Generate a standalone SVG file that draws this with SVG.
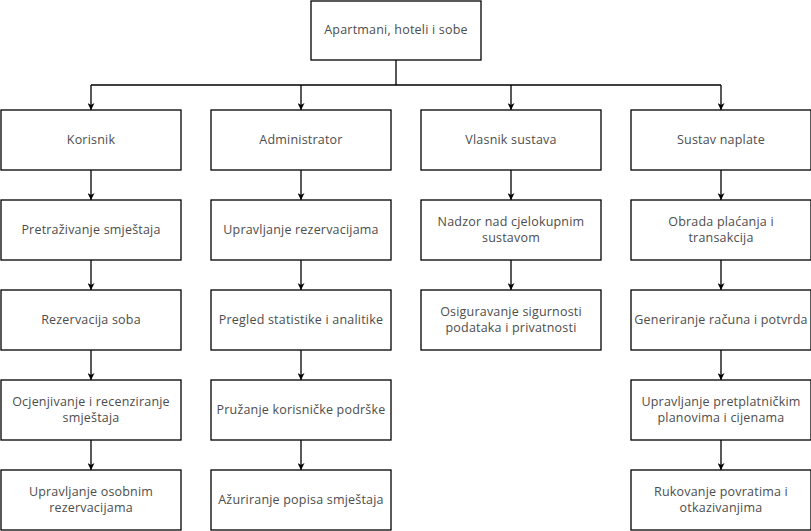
<svg xmlns="http://www.w3.org/2000/svg" width="811" height="531" viewBox="0 0 811 531">
<defs>
<marker id="ah" viewBox="0 0 10 10" refX="10" refY="5" markerWidth="7" markerHeight="7" markerUnits="userSpaceOnUse" orient="auto">
<path d="M0,0 L10,5 L0,10 L3,5 Z" fill="#000"/>
</marker>
<style>
rect{fill:#fff;stroke:#000;stroke-width:1.3}
text{font-family:"Open Sans","Noto Sans",sans-serif;font-size:12.5px;letter-spacing:0.2px;fill:#4d4d4d;text-anchor:middle}
.c{fill:none;stroke:#000;stroke-width:1.3}
.a{marker-end:url(#ah)}
</style>
</defs>
<rect x="0" y="0" width="811" height="531" style="fill:#fff;stroke:none"/>
<g id="connectors">
<path class="c" d="M396,60 V85 M91,85 H721"/>
<path class="c a" d="M91,85 V110"/>
<path class="c a" d="M301,85 V110"/>
<path class="c a" d="M511,85 V110"/>
<path class="c a" d="M721,85 V110"/>
<path class="c a" d="M91,170 V200"/>
<path class="c a" d="M91,260 V290"/>
<path class="c a" d="M91,350 V380"/>
<path class="c a" d="M91,440 V470"/>
<path class="c a" d="M301,170 V200"/>
<path class="c a" d="M301,260 V290"/>
<path class="c a" d="M301,350 V380"/>
<path class="c a" d="M301,440 V470"/>
<path class="c a" d="M511,170 V200"/>
<path class="c a" d="M511,260 V290"/>
<path class="c a" d="M721,170 V200"/>
<path class="c a" d="M721,260 V290"/>
<path class="c a" d="M721,350 V380"/>
<path class="c a" d="M721,440 V470"/>
</g>
<g id="root"><rect x="311" y="1" width="170" height="59"/><text x="396" y="34">Apartmani, hoteli i sobe</text></g>
<g id="korisnik"><rect x="1" y="110" width="180" height="60"/><text x="91" y="144">Korisnik</text></g>
<g id="administrator"><rect x="211" y="110" width="180" height="60"/><text x="301" y="144">Administrator</text></g>
<g id="vlasnik"><rect x="421" y="110" width="180" height="60"/><text x="511" y="144">Vlasnik sustava</text></g>
<g id="naplata"><rect x="631" y="110" width="180" height="60"/><text x="721" y="144">Sustav naplate</text></g>
<g id="k1"><rect x="1" y="200" width="180" height="60"/><text x="91" y="234">Pretraživanje smještaja</text></g>
<g id="k2"><rect x="1" y="290" width="180" height="60"/><text x="91" y="324">Rezervacija soba</text></g>
<g id="k3"><rect x="1" y="380" width="180" height="60"/><text x="91" y="406">Ocjenjivanje i recenziranje</text><text x="91" y="422">smještaja</text></g>
<g id="k4"><rect x="1" y="470" width="180" height="60"/><text x="91" y="496">Upravljanje osobnim</text><text x="91" y="512">rezervacijama</text></g>
<g id="a1"><rect x="211" y="200" width="180" height="60"/><text x="301" y="234">Upravljanje rezervacijama</text></g>
<g id="a2"><rect x="211" y="290" width="180" height="60"/><text x="301" y="324">Pregled statistike i analitike</text></g>
<g id="a3"><rect x="211" y="380" width="180" height="60"/><text x="301" y="414">Pružanje korisničke podrške</text></g>
<g id="a4"><rect x="211" y="470" width="180" height="60"/><text x="301" y="504">Ažuriranje popisa smještaja</text></g>
<g id="v1"><rect x="421" y="200" width="180" height="60"/><text x="511" y="226">Nadzor nad cjelokupnim</text><text x="511" y="242">sustavom</text></g>
<g id="v2"><rect x="421" y="290" width="180" height="60"/><text x="511" y="316">Osiguravanje sigurnosti</text><text x="511" y="332">podataka i privatnosti</text></g>
<g id="n1"><rect x="631" y="200" width="180" height="60"/><text x="721" y="226">Obrada plaćanja i</text><text x="721" y="242">transakcija</text></g>
<g id="n2"><rect x="631" y="290" width="180" height="60"/><text x="721" y="324">Generiranje računa i potvrda</text></g>
<g id="n3"><rect x="631" y="380" width="180" height="60"/><text x="721" y="406">Upravljanje pretplatničkim</text><text x="721" y="422">planovima i cijenama</text></g>
<g id="n4"><rect x="631" y="470" width="180" height="60"/><text x="721" y="496">Rukovanje povratima i</text><text x="721" y="512">otkazivanjima</text></g>
</svg>
